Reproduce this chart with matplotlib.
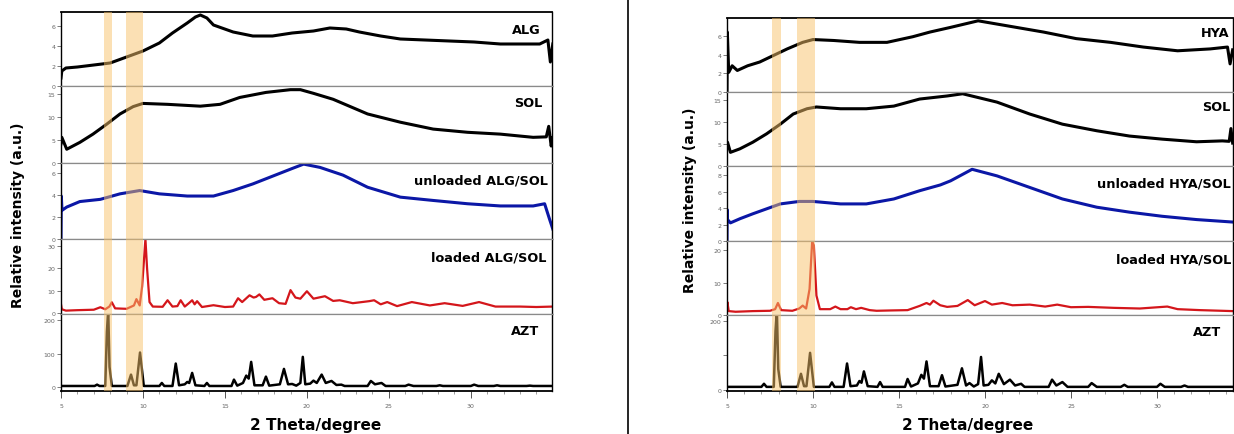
import numpy as np
import matplotlib
matplotlib.use("Agg")
import matplotlib.pyplot as plt
from matplotlib.lines import Line2D
from matplotlib.ticker import MultipleLocator

W, H = 1234, 435

# ---------------- left panel (ALG) ----------------
alg_x = [5.0, 5.05, 5.3, 6.0, 7.0, 8.0, 9.0, 10.0, 11.0, 11.8, 12.7, 13.2, 13.5, 13.9, 14.3, 15.5, 16.7,
         17.9, 19.1, 20.4, 21.4, 22.4, 23.2, 24.5, 25.7, 27.2, 28.7, 30.2, 31.8, 33.0, 34.2, 34.7, 34.85, 35.0]
alg_y = [0.8, 1.5, 1.8, 1.9, 2.1, 2.3, 2.9, 3.5, 4.3, 5.3, 6.3, 6.9, 7.1, 6.8, 6.1, 5.4, 5.0,
         5.0, 5.3, 5.5, 5.8, 5.7, 5.4, 5.0, 4.7, 4.6, 4.5, 4.4, 4.2, 4.2, 4.2, 4.6, 2.4, 4.2]

sol_l_x = [5.0, 5.05, 5.35, 6.15, 6.95, 7.8, 8.6, 9.4, 10.0, 11.5, 13.5, 14.7, 15.9, 17.5, 19.0, 19.6,
           20.4, 21.6, 23.7, 25.7, 27.7, 29.8, 31.8, 33.8, 34.6, 34.75, 34.9, 35.0]
sol_l_y = [4.2, 5.6, 3.0, 4.5, 6.3, 8.5, 10.7, 12.3, 13.0, 12.8, 12.4, 12.8, 14.3, 15.4, 16.0, 16.0,
           15.2, 13.9, 10.7, 8.9, 7.4, 6.7, 6.3, 5.6, 5.7, 8.0, 3.7, 5.5]

unl_l_x = [5.0, 5.02, 5.06, 5.35, 6.15, 7.4, 8.6, 9.8, 11.0, 12.7, 14.3, 15.5, 16.7, 17.9, 19.1, 19.8,
           20.8, 22.2, 23.7, 25.7, 27.7, 29.8, 31.8, 33.8, 34.5, 34.8, 35.0]
unl_l_y = [0.0, 3.9, 2.6, 2.9, 3.4, 3.6, 4.1, 4.4, 4.1, 3.9, 3.9, 4.4, 5.0, 5.7, 6.4, 6.8,
           6.5, 5.8, 4.7, 3.8, 3.5, 3.2, 3.0, 3.0, 3.2, 1.8, 0.9]

lod_l = [(5.0, 4.0), (5.05, 1.8), (5.3, 1.2), (6.0, 1.4), (7.0, 1.6), (7.4, 2.7), (7.7, 1.8), (7.95, 3.0),
         (8.1, 4.9), (8.3, 2.2), (9.0, 2.0), (9.45, 3.5), (9.6, 6.3), (9.8, 3.5), (9.95, 12.0), (10.15, 33.0),
         (10.25, 20.0), (10.4, 5.0), (10.6, 3.0), (11.2, 2.9), (11.5, 5.8), (11.8, 3.0), (12.1, 3.2),
         (12.3, 5.8), (12.55, 3.0), (12.8, 4.5), (13.0, 5.8), (13.15, 4.0), (13.3, 5.4), (13.6, 2.8),
         (14.3, 3.6), (15.0, 2.8), (15.5, 3.0), (15.8, 6.7), (16.05, 5.0), (16.5, 8.0), (16.75, 7.0),
         (16.9, 7.3), (17.1, 8.4), (17.4, 6.0), (17.9, 6.7), (18.3, 4.5), (18.7, 4.2), (19.0, 10.3),
         (19.3, 7.0), (19.6, 6.5), (20.0, 9.8), (20.4, 6.5), (21.1, 7.6), (21.6, 5.5), (22.0, 5.8),
         (22.8, 4.5), (23.8, 5.4), (24.1, 5.8), (24.5, 4.0), (24.9, 5.0), (25.5, 3.2), (26.4, 5.0),
         (27.5, 3.5), (28.4, 4.5), (29.5, 3.3), (30.5, 5.0), (31.5, 3.0), (33.0, 3.0), (34.0, 2.8), (35.0, 3.0)]

azt_l = [(5.0, 3), (7.05, 3), (7.2, 7), (7.35, 3), (7.7, 3), (7.8, 165), (7.88, 230), (7.96, 60), (8.1, 3),
         (9.05, 3), (9.27, 37), (9.45, 5), (9.6, 5), (9.82, 103), (10.05, 3), (11.0, 3), (11.15, 12),
         (11.3, 3), (11.8, 3), (12.0, 70), (12.2, 5), (12.55, 8), (12.7, 15), (12.82, 12), (13.0, 42),
         (13.2, 5), (13.75, 3), (13.9, 12), (14.05, 3), (15.4, 3), (15.55, 22), (15.75, 4), (16.1, 12),
         (16.3, 34), (16.45, 25), (16.6, 75), (16.8, 5), (17.3, 5), (17.5, 31), (17.7, 4), (18.35, 8),
         (18.6, 54), (18.85, 8), (19.1, 9), (19.35, 4), (19.6, 12), (19.75, 90), (19.9, 8), (20.2, 10),
         (20.4, 19), (20.6, 12), (20.9, 37), (21.15, 12), (21.5, 18), (21.8, 6), (22.1, 7), (22.3, 3),
         (23.7, 3), (23.9, 18), (24.15, 8), (24.55, 12), (24.8, 3), (26.0, 3), (26.2, 7), (26.5, 3),
         (27.9, 3), (28.1, 5), (28.3, 3), (30.0, 3), (30.2, 7), (30.45, 3), (31.4, 3), (31.6, 5),
         (31.8, 3), (33.4, 3), (33.6, 4), (33.8, 3), (35.0, 3)]

# ---------------- right panel (HYA) ----------------
hya_x = [5.0, 5.02, 5.1, 5.3, 5.6, 6.2, 6.9, 7.7, 8.5, 9.4, 10.0, 11.2, 12.7, 14.3, 15.8, 16.8, 18.0,
         19.6, 21.5, 23.4, 25.3, 27.3, 29.2, 31.2, 33.1, 34.1, 34.25, 34.4]
hya_y = [0.0, 6.4, 2.1, 2.8, 2.3, 2.8, 3.2, 3.9, 4.6, 5.3, 5.6, 5.5, 5.3, 5.3, 5.9, 6.4, 6.9,
         7.6, 7.0, 6.4, 5.7, 5.3, 4.8, 4.4, 4.6, 4.8, 3.0, 4.5]

sol_r_x = [5.0, 5.03, 5.2, 5.75, 6.5, 7.3, 8.1, 8.85, 9.65, 10.2, 11.6, 13.1, 14.7, 16.2, 17.8, 18.7,
           20.7, 22.6, 24.5, 26.5, 28.4, 30.3, 32.3, 33.8, 34.2, 34.3, 34.4]
sol_r_y = [4.5, 5.4, 3.1, 3.9, 5.4, 7.3, 9.5, 11.8, 13.0, 13.4, 13.0, 13.0, 13.6, 15.2, 15.9, 16.4,
           14.5, 11.8, 9.5, 8.0, 6.8, 6.1, 5.5, 5.7, 5.6, 8.5, 5.2]

unl_r_x = [5.0, 5.01, 5.03, 5.2, 5.75, 6.5, 7.3, 8.1, 9.2, 10.0, 11.6, 13.1, 14.7, 16.2, 17.4, 18.0,
           19.25, 20.7, 22.6, 24.5, 26.5, 28.4, 30.3, 32.3, 34.4]
unl_r_y = [0.0, 3.8, 2.6, 2.2, 2.7, 3.3, 3.9, 4.5, 4.8, 4.8, 4.5, 4.5, 5.1, 6.1, 6.8, 7.3,
           8.7, 7.9, 6.5, 5.1, 4.1, 3.5, 3.0, 2.6, 2.3]

lod_r = [(5.0, 1.5), (5.02, 4.0), (5.1, 1.2), (5.5, 1.0), (6.5, 1.2), (7.5, 1.3), (7.8, 1.8), (7.96, 3.7),
         (8.15, 1.5), (8.8, 1.3), (9.2, 2.0), (9.4, 2.9), (9.6, 2.0), (9.8, 8.0), (9.95, 22.5), (10.05, 21.5),
         (10.2, 6.0), (10.4, 1.8), (11.0, 1.8), (11.3, 2.6), (11.6, 1.8), (12.0, 1.8), (12.2, 2.4),
         (12.5, 1.8), (12.8, 2.2), (13.3, 1.5), (13.7, 1.3), (14.5, 1.4), (15.5, 1.5), (16.2, 2.8),
         (16.6, 3.7), (16.8, 3.2), (17.0, 4.4), (17.4, 3.0), (17.8, 2.5), (18.4, 2.8), (19.0, 4.6),
         (19.4, 3.0), (20.0, 4.3), (20.4, 3.2), (21.0, 3.7), (21.6, 3.0), (22.6, 3.2), (23.5, 2.6),
         (24.2, 3.2), (25.0, 2.4), (26.0, 2.5), (27.5, 2.2), (29.0, 2.0), (30.6, 2.6), (31.2, 1.8),
         (32.5, 1.5), (34.4, 1.2)]

azt_r = [(5.0, 8), (7.0, 8), (7.15, 17), (7.3, 8), (7.72, 8), (7.82, 170), (7.9, 230), (7.98, 60), (8.12, 8),
         (9.1, 8), (9.3, 46), (9.48, 10), (9.62, 10), (9.83, 107), (10.05, 8), (10.95, 8), (11.1, 21),
         (11.25, 8), (11.78, 8), (11.98, 76), (12.18, 10), (12.55, 12), (12.7, 25), (12.82, 20), (12.96, 53),
         (13.18, 10), (13.75, 8), (13.9, 22), (14.05, 8), (15.35, 8), (15.5, 31), (15.7, 9), (16.1, 18),
         (16.3, 43), (16.45, 32), (16.6, 82), (16.8, 10), (17.3, 10), (17.5, 42), (17.7, 9), (18.4, 14),
         (18.66, 62), (18.9, 12), (19.1, 19), (19.35, 9), (19.6, 16), (19.77, 95), (19.92, 12), (20.2, 14),
         (20.4, 27), (20.6, 18), (20.8, 46), (21.1, 16), (21.45, 29), (21.75, 12), (22.1, 17), (22.3, 8),
         (23.7, 8), (23.9, 29), (24.15, 12), (24.5, 22), (24.8, 8), (26.0, 8), (26.2, 19), (26.5, 8),
         (27.9, 8), (28.1, 14), (28.3, 8), (30.0, 8), (30.2, 17), (30.45, 8), (31.4, 8), (31.6, 12),
         (31.8, 8), (34.4, 8)]

left_labels = ["ALG", "SOL", "unloaded ALG/SOL", "loaded ALG/SOL", "AZT"]
right_labels = ["HYA", "SOL", "unloaded HYA/SOL", "loaded HYA/SOL", "AZT"]

left_ticks = [[0, 2, 4, 6], [0, 5, 10, 15], [0, 2, 4, 6], [0, 10, 20, 30], [0, 100, 200]]
right_ticks = [[0, 2, 4, 6], [0, 5, 10, 15], [0, 2, 4, 6, 8], [0, 10, 20], [0, 100, 200]]
right_ticklabels = [None, None, None, None, ["0", "", "200"]]

left_ylims = [(0, 7.4), (0, 16.8), (0, 6.9), (-0.3, 33), (-12, 218)]
right_ylims = [(0, 7.9), (0, 16.8), (0, 9.1), (0, 22.8), (-4, 217)]

left_bands = [(7.62, 8.11), (8.96, 10.0)]
right_bands = [(7.62, 8.14), (9.07, 10.1)]

colors = ["black", "black", "#0b17a6", "#d4161b", "black"]
widths = [2.2, 2.2, 2.2, 1.6, 1.8]

xticks = [5, 10, 15, 20, 25, 30]


def xy(pairs):
    a = np.array(pairs, dtype=float)
    return a[:, 0], a[:, 1]


left_series = [(alg_x, alg_y), (sol_l_x, sol_l_y), (unl_l_x, unl_l_y), xy(lod_l), xy(azt_l)]
right_series = [(hya_x, hya_y), (sol_r_x, sol_r_y), (unl_r_x, unl_r_y), xy(lod_r), xy(azt_r)]


def draw_panel(fig, x0, x1, edges, xlim, series, labels, ticks, ticklabels, ylims, bands, lab_pos):
    axes = []
    for i in range(5):
        top, bot = edges[i], edges[i + 1]
        ax = fig.add_axes([x0 / W, 1 - bot / H, (x1 - x0) / W, (bot - top) / H])
        sx, sy = series[i]
        ax.plot(sx, sy, color=colors[i], lw=widths[i], solid_joinstyle="round", zorder=2)
        for b0, b1 in bands:
            ax.axvspan(b0, b1, color="#f8c26a", alpha=0.5, lw=0, zorder=3)
        ax.set_xlim(*xlim)
        ax.set_ylim(*ylims[i])
        ax.set_yticks(ticks[i])
        if ticklabels[i] is not None:
            ax.set_yticklabels(ticklabels[i])
        ax.tick_params(axis="y", direction="out", length=3, width=0.6, color="#666666",
                       labelsize=4.5, labelcolor="#666666", pad=1)
        for side in ["left", "right"]:
            ax.spines[side].set_color("black")
            ax.spines[side].set_linewidth(1.0)
        ax.spines["top"].set_color("black" if i == 0 else "#8a8a8a")
        ax.spines["top"].set_linewidth(1.3 if i == 0 else 0.9)
        ax.spines["bottom"].set_color("black" if i == 4 else "#8a8a8a")
        ax.spines["bottom"].set_linewidth(1.3 if i == 4 else 0.9)
        if i < 4:
            ax.set_xticks([])
        else:
            ax.set_xticks(xticks)
            ax.xaxis.set_minor_locator(MultipleLocator(1))
            ax.tick_params(axis="x", which="major", direction="out", length=5, width=0.7,
                           color="#555555", labelsize=4.5, labelcolor="#666666", pad=4)
            ax.tick_params(axis="x", which="minor", direction="out", length=2.5, width=0.5,
                           color="#777777")
        xf, yf = lab_pos[i]
        ax.text(xf, yf, labels[i], transform=ax.transAxes, ha="right", va="center",
                fontsize=9.3, fontweight="bold", family="DejaVu Sans", clip_on=False, zorder=5)
        axes.append(ax)
    return axes


fig = plt.figure(figsize=(W / 100, H / 100), dpi=100)

left_lab = [(1 - 11 / 491, 0.77), (1 - 10 / 491, 0.78), (1 - 4 / 491, 0.78), (1 - 6 / 491, 0.76), (1 - 13 / 491, 0.78)]
right_lab = [(1 - 3 / 506, 0.81), (1 - 3 / 506, 0.81), (1 - 2 / 506, 0.77), (1 - 2 / 506, 0.76), (1 - 12 / 506, 0.78)]

draw_panel(fig, 61, 552, [13, 87, 164, 240, 315, 392], (5, 34.95), left_series, left_labels,
           left_ticks, [None] * 5, left_ylims, left_bands, left_lab)
draw_panel(fig, 727, 1233, [19, 93, 167, 242, 316, 392], (5, 34.42), right_series, right_labels,
           right_ticks, right_ticklabels, right_ylims, right_bands, right_lab)

fig.text(18 / W, 1 - 215 / H, "Relative intensity (a.u.)", rotation=90, ha="center", va="center",
         fontsize=10, fontweight="bold", family="DejaVu Sans")
fig.text(690 / W, 1 - 200 / H, "Relative intensity (a.u.)", rotation=90, ha="center", va="center",
         fontsize=10, fontweight="bold", family="DejaVu Sans")
fig.text(316 / W, 1 - 426 / H, "2 Theta/degree", ha="center", va="center",
         fontsize=11, fontweight="bold", family="DejaVu Sans")
fig.text(968 / W, 1 - 426 / H, "2 Theta/degree", ha="center", va="center",
         fontsize=11, fontweight="bold", family="DejaVu Sans")

fig.add_artist(Line2D([628 / W, 628 / W], [0, 1], color="black", lw=1.2))

fig.savefig("out.png", dpi=100)
